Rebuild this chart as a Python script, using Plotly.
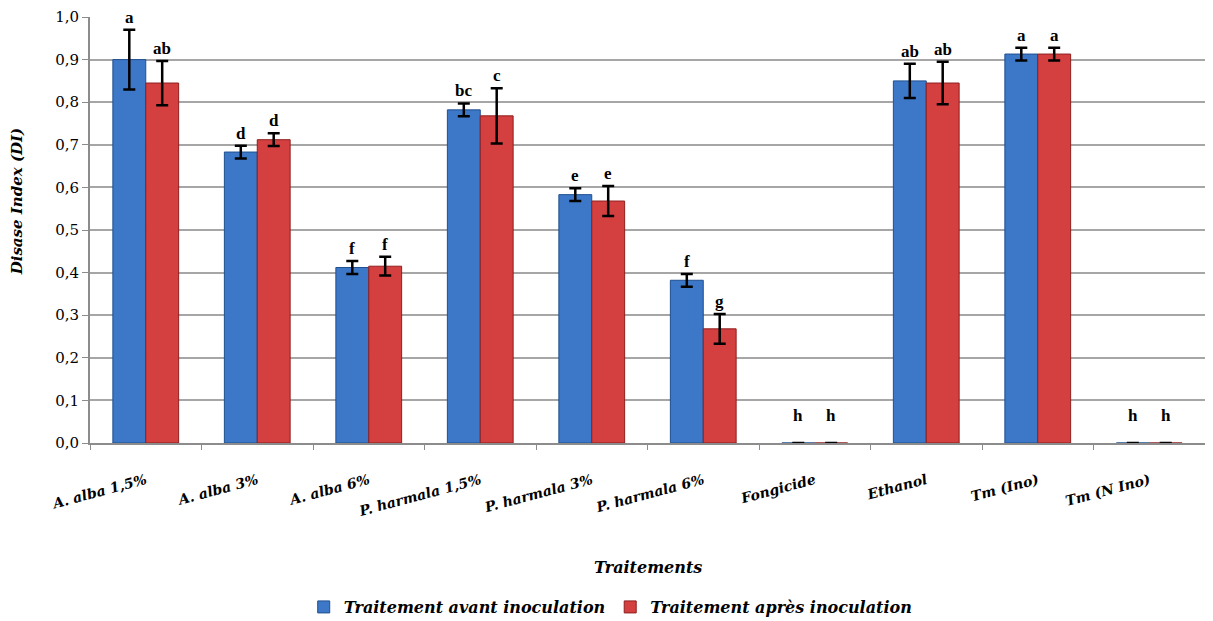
import plotly.graph_objects as go

categories = ["A. alba 1,5%", "A. alba 3%", "A. alba 6%", "P. harmala 1,5%", "P. harmala 3%",
              "P. harmala 6%", "Fongicide", "Ethanol", "Tm (Ino)", "Tm (N Ino)"]
avant = [0.90, 0.683, 0.412, 0.782, 0.583, 0.382, 0.0, 0.85, 0.913, 0.0]
avant_err = [0.07, 0.015, 0.015, 0.015, 0.015, 0.015, 0.0, 0.04, 0.015, 0.0]
apres = [0.845, 0.712, 0.415, 0.768, 0.568, 0.268, 0.0, 0.845, 0.913, 0.0]
apres_err = [0.052, 0.015, 0.022, 0.065, 0.035, 0.035, 0.0, 0.05, 0.015, 0.0]
avant_letters = ["a", "d", "f", "bc", "e", "f", "h", "ab", "a", "h"]
apres_letters = ["ab", "d", "f", "c", "e", "g", "h", "ab", "a", "h"]
yticks = [0.0, 0.1, 0.2, 0.3, 0.4, 0.5, 0.6, 0.7, 0.8, 0.9, 1.0]

LETTER_FONT = "serif"
BI_FONT = "DejaVu Serif"   # has a real bold-italic face here

fig = go.Figure()
fig.add_trace(go.Bar(
    x=categories, y=avant, name="<b><i>Traitement avant inoculation</i></b>",
    marker=dict(color="#3d78c8", line=dict(color="#1f4f8f", width=1)),
    error_y=dict(type="data", array=avant_err, color="black", thickness=2.5, width=6),
))
fig.add_trace(go.Bar(
    x=categories, y=apres, name="<b><i>Traitement après inoculation</i></b>",
    marker=dict(color="#d43f3f", line=dict(color="#8f1f1f", width=1)),
    error_y=dict(type="data", array=apres_err, color="black", thickness=2.5, width=6),
))

annotations = []
off = 0.148
for i in range(len(categories)):
    for vals, errs, letters, dx in ((avant, avant_err, avant_letters, -off),
                                    (apres, apres_err, apres_letters, off)):
        top = vals[i] + errs[i]
        ys = 1 if top > 0 else 16
        annotations.append(dict(
            x=i + dx, y=top, xref="x", yref="y", text="<b>%s</b>" % letters[i],
            showarrow=False, yanchor="bottom", yshift=ys,
            font=dict(family=LETTER_FONT, size=17, color="black")))

annotations.append(dict(
    x=0.5, y=-0.292, xref="paper", yref="paper", text="<b><i>Traitements</i></b>",
    showarrow=False, xanchor="center", yanchor="middle",
    font=dict(family=BI_FONT, size=16, color="black")))
annotations.append(dict(
    x=-0.066, y=0.566, xref="paper", yref="paper", text="<b><i>Disase Index (DI)</i></b>",
    showarrow=False, textangle=-90, xanchor="center", yanchor="middle",
    font=dict(family=BI_FONT, size=15, color="black")))

fig.update_layout(
    width=1213, height=621,
    margin=dict(l=82, r=16, t=9, b=186, autoexpand=False),
    plot_bgcolor="white", paper_bgcolor="white",
    separators=", ",
    barmode="group", bargap=0.41, bargroupgap=0.0,
    font=dict(family=BI_FONT, color="black"),
    annotations=annotations,
    showlegend=True,
    legend=dict(orientation="h", x=0.467, xanchor="center", y=-0.385, yanchor="middle",
                font=dict(family=BI_FONT, size=16, color="black"),
                itemwidth=30),
    xaxis=dict(
        automargin=False,
        tickangle=-15, tickfont=dict(family=BI_FONT, size=14, color="black"),
        ticks="outside", tickson="boundaries", ticklen=5, tickcolor="#8c8c8c",
        ticklabelstandoff=22,
        showline=True, linecolor="#8c8c8c", linewidth=2,
        tickprefix="<b><i>", ticksuffix="</i></b>",
    ),
    yaxis=dict(
        automargin=False, ticklabeloverflow="allow",
        range=[0, 1.0], tickvals=yticks, tickformat=".1f",
        tickprefix="<b><i>", ticksuffix="</i></b>",
        tickfont=dict(family=BI_FONT, size=15, color="black"),
        ticks="outside", ticklen=6, tickcolor="#8c8c8c",
        showgrid=True, gridcolor="#a6a6a6", gridwidth=2,
        showline=True, linecolor="#8c8c8c", linewidth=2,
        zeroline=False,
    ),
)

fig.write_html("out.html")
